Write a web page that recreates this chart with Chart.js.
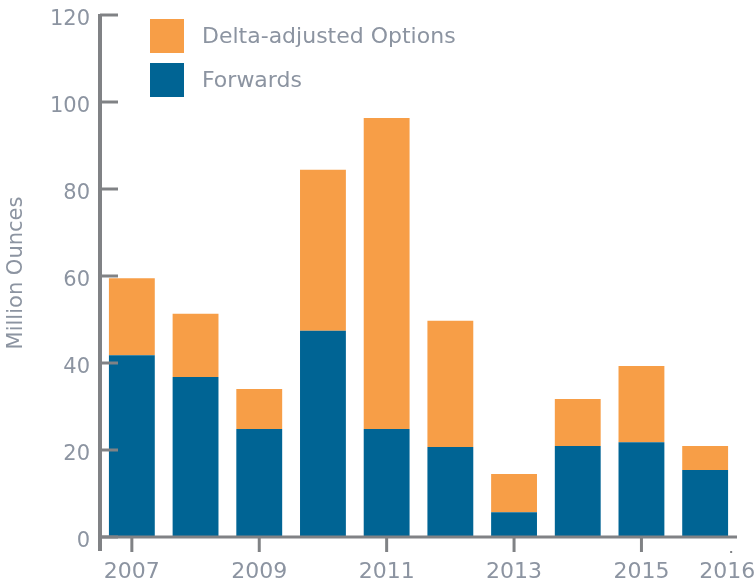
<!DOCTYPE html>
<html><head><meta charset="utf-8">
<script src="https://cdn.jsdelivr.net/npm/chart.js@4"></script>
<style>html,body{margin:0;padding:0;background:#fff;}#wrap{width:756px;height:584px;position:relative;}</style>
</head><body><div id="wrap"><canvas id="c" width="756" height="584"></canvas></div>
<script>
const categories = ['2007','2008','2009','2010','2011','2012','2013','2014','2015','2016'];
const forwards = [41.8, 36.8, 24.8, 47.4, 24.8, 20.7, 5.7, 20.9, 21.8, 15.4];
const options = [17.7, 14.5, 9.2, 37.0, 71.5, 29.0, 8.8, 10.8, 17.5, 5.5];
const xTickLabels = ['2007','','2009','','2011','','2013','','2015','2016'];
const yTicks = [0, 20, 40, 60, 80, 100, 120];

const TEXT = '#8c94a1';
const AXIS = '#808285';
const FONT = 'DejaVu Sans';

const axisPlugin = {
  id: 'axisPlugin',
  afterDraw(chart) {
    const ctx = chart.ctx;
    const ys = chart.scales.y, xs = chart.scales.x;
    const ca = chart.chartArea;
    const x0 = ca.left, y0 = ys.getPixelForValue(0);
    ctx.save();
    ctx.strokeStyle = AXIS;
    // x axis line
    ctx.lineWidth = 3;
    ctx.beginPath(); ctx.moveTo(x0, y0); ctx.lineTo(ca.right, y0); ctx.stroke();
    // y axis line
    ctx.lineWidth = 4;
    ctx.beginPath(); ctx.moveTo(x0, ys.getPixelForValue(120) - 1); ctx.lineTo(x0, y0 + 14); ctx.stroke();
    // y tick marks (inside)
    ctx.lineWidth = 3;
    yTicks.forEach(v => {
      const p = ys.getPixelForValue(v);
      ctx.beginPath(); ctx.moveTo(x0, p); ctx.lineTo(x0 + 18, p); ctx.stroke();
    });
    // y tick labels
    ctx.fillStyle = TEXT;
    ctx.font = '21px "' + FONT + '"';
    ctx.textAlign = 'right'; ctx.textBaseline = 'alphabetic';
    yTicks.forEach(v => {
      ctx.fillText(String(v), x0 - 10, ys.getPixelForValue(v) + 10);
    });
    // x tick marks and labels
    ctx.font = '22px "' + FONT + '"';
    ctx.textAlign = 'center'; ctx.textBaseline = 'alphabetic';
    categories.forEach((c, i) => {
      const lab = xTickLabels[i];
      if (!lab) return;
      let p = xs.getPixelForValue(i);
      if (i === categories.length - 1) {
        p = p + 22;
        ctx.fillStyle = AXIS;
        ctx.fillRect(p + 3, y0 + 14, 2, 2);
      } else {
        ctx.beginPath(); ctx.moveTo(p, y0); ctx.lineTo(p, y0 + 15); ctx.stroke();
      }
      ctx.fillStyle = TEXT;
      ctx.fillText(lab, p, y0 + 41);
    });
    // y title
    ctx.save();
    ctx.translate(17, 273);
    ctx.rotate(-Math.PI / 2);
    ctx.font = '21px "' + FONT + '"';
    ctx.textAlign = 'center'; ctx.textBaseline = 'middle';
    ctx.fillStyle = TEXT;
    ctx.fillText('Million Ounces', 0, 0);
    ctx.restore();
    // legend
    const items = [chart.data.datasets[1], chart.data.datasets[0]];
    ctx.font = '22px "' + FONT + '"';
    ctx.textAlign = 'left'; ctx.textBaseline = 'middle';
    items.forEach((d, k) => {
      const top = 19 + k * 44;
      ctx.fillStyle = d.backgroundColor;
      ctx.fillRect(150, top, 34, 34);
      ctx.fillStyle = TEXT;
      ctx.fillText(d.label, 202, top + 18);
    });
    ctx.restore();
  }
};

new Chart(document.getElementById('c'), {
  type: 'bar',
  data: {
    labels: categories,
    datasets: [
      { label: 'Forwards', data: forwards, backgroundColor: '#006494', barPercentage: 0.72, categoryPercentage: 1 },
      { label: 'Delta-adjusted Options', data: options, backgroundColor: '#F79E47', barPercentage: 0.72, categoryPercentage: 1 }
    ]
  },
  options: {
    responsive: false,
    animation: false,
    layout: { padding: { top: 15, right: 19, left: 0, bottom: 0 } },
    plugins: { legend: { display: false }, tooltip: { enabled: false } },
    scales: {
      x: {
        stacked: true,
        grid: { display: false },
        border: { display: false },
        ticks: { display: false },
        afterFit: s => { s.height = 47; }
      },
      y: {
        stacked: true,
        min: 0, max: 120,
        grid: { display: false },
        border: { display: false },
        ticks: { display: false, stepSize: 20 },
        afterFit: s => { s.width = 100; }
      }
    }
  },
  plugins: [axisPlugin]
});
</script></body></html>
